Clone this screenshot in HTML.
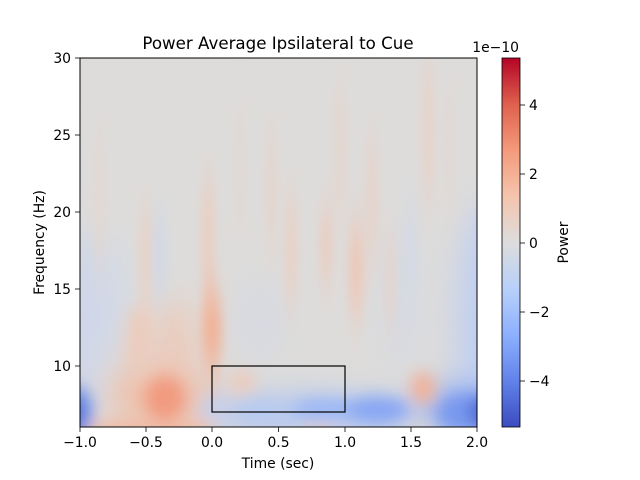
<!DOCTYPE html>
<html><head><meta charset="utf-8"><style>
html,body{margin:0;padding:0;background:#fff;}
svg{display:block;font-family:"DejaVu Sans","Liberation Sans",sans-serif;}
</style></head><body>
<svg width="640" height="480" viewBox="0 0 640 480" xmlns="http://www.w3.org/2000/svg">
<defs>
<clipPath id="pc"><rect x="80" y="58" width="397" height="369"/></clipPath>
<filter id="b1" x="-50%" y="-50%" width="200%" height="200%"><feGaussianBlur stdDeviation="8"/></filter>
<filter id="b2" x="-50%" y="-50%" width="200%" height="200%"><feGaussianBlur stdDeviation="16"/></filter>
<filter id="bs" x="-100%" y="-50%" width="300%" height="200%"><feGaussianBlur stdDeviation="5 22"/></filter>
<linearGradient id="cw" x1="0" y1="1" x2="0" y2="0">
<stop offset="0" stop-color="#3b4cc0"/>
<stop offset="0.125" stop-color="#6282ea"/>
<stop offset="0.25" stop-color="#8db0fe"/>
<stop offset="0.375" stop-color="#b8d0f9"/>
<stop offset="0.5" stop-color="#dddddd"/>
<stop offset="0.625" stop-color="#f5c4ad"/>
<stop offset="0.75" stop-color="#f49a7b"/>
<stop offset="0.875" stop-color="#de604d"/>
<stop offset="1" stop-color="#b40426"/>
</linearGradient>
</defs>
<rect width="640" height="480" fill="#fff"/>
<g clip-path="url(#pc)">
<rect x="80" y="58" width="397" height="369" fill="#dddcdb"/>
<g filter="url(#b2)">
<ellipse cx="492" cy="330" rx="35" ry="130" fill="#bfcff2"/>
<ellipse cx="80" cy="320" rx="22" ry="90" fill="#cdd6ea"/>
<ellipse cx="115" cy="300" rx="12" ry="60" fill="#d2d9e7"/>
<ellipse cx="400" cy="300" rx="12" ry="70" fill="#d2d8e6"/>
<ellipse cx="260" cy="320" rx="20" ry="40" fill="#d6d9e2"/>
<ellipse cx="160" cy="395" rx="50" ry="38" fill="#efc1ab"/>
<ellipse cx="175" cy="340" rx="22" ry="40" fill="#ebcbbb"/>
<ellipse cx="310" cy="414" rx="110" ry="16" fill="#aac2f4"/>
<ellipse cx="460" cy="410" rx="40" ry="25" fill="#8eabf2"/>
</g>
<g filter="url(#bs)">
<ellipse cx="100" cy="200" rx="4" ry="80" fill="#e4d6cf"/>
<ellipse cx="160" cy="255" rx="6" ry="40" fill="#ced7e8"/>
<ellipse cx="145" cy="260" rx="6" ry="60" fill="#e8d2c6"/>
<ellipse cx="208" cy="240" rx="6" ry="70" fill="#eacdbf"/>
<ellipse cx="212" cy="330" rx="11" ry="38" fill="#f2b195"/>
<ellipse cx="240" cy="170" rx="4" ry="70" fill="#e3d7d1"/>
<ellipse cx="271" cy="190" rx="5" ry="70" fill="#e6d4cb"/>
<ellipse cx="291" cy="250" rx="6" ry="60" fill="#e9d0c4"/>
<ellipse cx="326" cy="245" rx="6" ry="40" fill="#eccbbc"/>
<ellipse cx="340" cy="150" rx="6" ry="70" fill="#e5d5cd"/>
<ellipse cx="356" cy="270" rx="8" ry="50" fill="#edc8b8"/>
<ellipse cx="372" cy="200" rx="6" ry="70" fill="#e6d3ca"/>
<ellipse cx="390" cy="280" rx="5" ry="50" fill="#e6d3ca"/>
<ellipse cx="428" cy="130" rx="6" ry="80" fill="#e7d3c9"/>
<ellipse cx="450" cy="150" rx="4" ry="70" fill="#e3d7d1"/>
<ellipse cx="410" cy="250" rx="6" ry="50" fill="#d4d9e5"/>
</g>
<g filter="url(#b1)">
<ellipse cx="140" cy="340" rx="14" ry="35" fill="#ecccbd"/>
<ellipse cx="150" cy="430" rx="65" ry="12" fill="#f0bca5"/>
<ellipse cx="165" cy="398" rx="20" ry="22" fill="#f19a7f"/>
<ellipse cx="242" cy="382" rx="13" ry="12" fill="#eccabb"/>
<ellipse cx="214" cy="408" rx="10" ry="10" fill="#c2d1f0"/>
<ellipse cx="260" cy="410" rx="25" ry="8" fill="#b6caf2"/>
<ellipse cx="325" cy="409" rx="32" ry="9" fill="#98b5f7"/>
<ellipse cx="378" cy="410" rx="32" ry="13" fill="#86a5f4"/>
<ellipse cx="318" cy="432" rx="18" ry="6" fill="#e7cbbd"/>
<ellipse cx="423" cy="388" rx="12" ry="16" fill="#f4b096"/>
<ellipse cx="420" cy="430" rx="8" ry="8" fill="#e0d3cf"/>
<ellipse cx="468" cy="413" rx="30" ry="18" fill="#7797ee"/>
<ellipse cx="484" cy="412" rx="14" ry="16" fill="#4a63d3"/>
<ellipse cx="76" cy="412" rx="16" ry="26" fill="#6d8de9"/>
<ellipse cx="76" cy="414" rx="9" ry="14" fill="#5171dc"/>
</g>
</g>
<rect x="80" y="58" width="397" height="369" fill="none" stroke="#000" stroke-width="1"/>
<rect x="212" y="366" width="133" height="46" fill="none" stroke="#000" stroke-width="1.2"/>
<g stroke="#000" stroke-width="0.8">
<line x1="80" y1="427" x2="80" y2="432"/>
<line x1="146" y1="427" x2="146" y2="432"/>
<line x1="212" y1="427" x2="212" y2="432"/>
<line x1="278.5" y1="427" x2="278.5" y2="432"/>
<line x1="345" y1="427" x2="345" y2="432"/>
<line x1="411" y1="427" x2="411" y2="432"/>
<line x1="477" y1="427" x2="477" y2="432"/>
<line x1="75" y1="58" x2="80" y2="58"/>
<line x1="75" y1="135" x2="80" y2="135"/>
<line x1="75" y1="212" x2="80" y2="212"/>
<line x1="75" y1="289" x2="80" y2="289"/>
<line x1="75" y1="366" x2="80" y2="366"/>
<line x1="520" y1="105" x2="525" y2="105"/>
<line x1="520" y1="174" x2="525" y2="174"/>
<line x1="520" y1="243" x2="525" y2="243"/>
<line x1="520" y1="312" x2="525" y2="312"/>
<line x1="520" y1="381" x2="525" y2="381"/>
</g>
<g font-size="13.9" fill="#000" text-anchor="middle">
<text x="80" y="447">−1.0</text>
<text x="146" y="447">−0.5</text>
<text x="212" y="447">0.0</text>
<text x="278.5" y="447">0.5</text>
<text x="345" y="447">1.0</text>
<text x="411" y="447">1.5</text>
<text x="477" y="447">2.0</text>
<text x="278" y="468">Time (sec)</text>
</g>
<g font-size="13.9" fill="#000" text-anchor="end">
<text x="71" y="63">30</text>
<text x="71" y="140">25</text>
<text x="71" y="217">20</text>
<text x="71" y="294">15</text>
<text x="71" y="371">10</text>
</g>
<text transform="translate(44,242.5) rotate(-90)" font-size="13.9" text-anchor="middle">Frequency (Hz)</text>
<text x="278" y="49" font-size="16.67" text-anchor="middle">Power Average Ipsilateral to Cue</text>
<rect x="502" y="58" width="18" height="369" fill="url(#cw)" stroke="#000" stroke-width="0.8"/>
<g font-size="13.9" fill="#000">
<text x="529" y="110">4</text>
<text x="529" y="179">2</text>
<text x="529" y="248">0</text>
<text x="529" y="317">−2</text>
<text x="529" y="386">−4</text>
<text x="519" y="52" text-anchor="end">1e−10</text>
</g>
<text transform="translate(568,242.5) rotate(-90)" font-size="13.9" text-anchor="middle">Power</text>
</svg>
</body></html>
